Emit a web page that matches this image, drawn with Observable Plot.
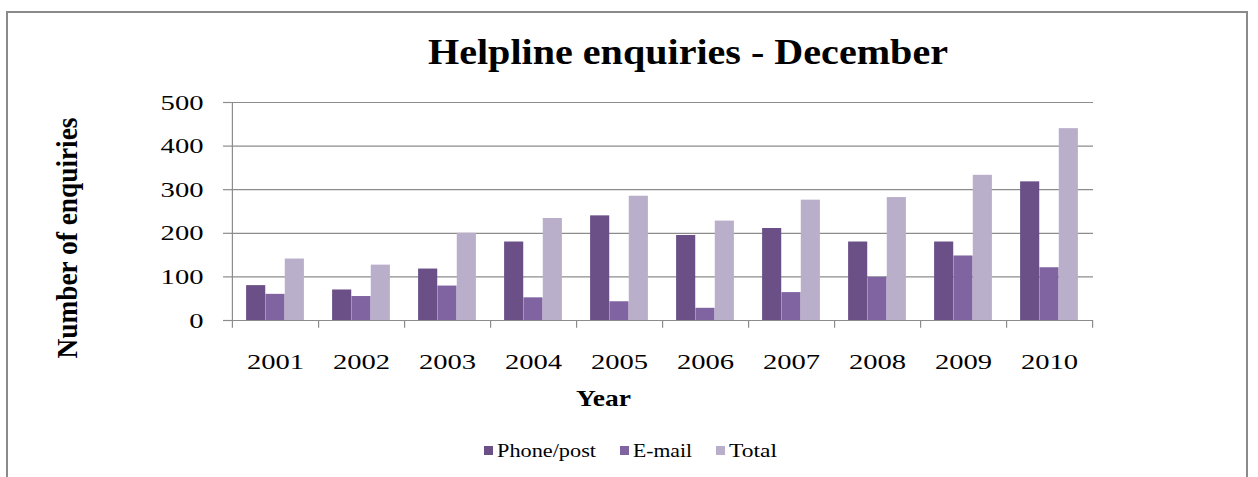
<!DOCTYPE html>
<html>
<head>
<meta charset="utf-8">
<script src="https://cdn.jsdelivr.net/npm/d3@7"></script>
<script src="https://cdn.jsdelivr.net/npm/@observablehq/plot@0.6"></script>
<style>
  body { margin: 0; background: #fff; }
  #wrap { position: relative; width: 1258px; height: 477px; overflow: hidden; background: #fff;
          font-family: "Liberation Serif", "Times New Roman", serif; color: #000; }
  #frame { position: absolute; left: 6px; top: 11px; width: 1242px; height: 480px;
           border: 2px solid #8a8a8a; box-sizing: border-box; }
  #chart { position: absolute; left: 0; top: 0; }
  .lbl { position: absolute; white-space: nowrap; line-height: 1; transform-origin: 0 0; }
  .sw { position: absolute; width: 9px; height: 9px; }
</style>
</head>
<body>
<div id="wrap">
  <div id="frame"></div>
  <div id="chart"></div>
</div>
<script>
// ---- data ----
const years = ["2001","2002","2003","2004","2005","2006","2007","2008","2009","2010"];
const phonePost = [80, 70, 118, 180, 240, 195, 211, 180, 180, 318];
const email     = [60, 55, 79, 52, 43, 28, 64, 99, 148, 121];
const total     = [141, 127, 200, 234, 285, 228, 276, 282, 333, 440];
const seriesNames = ["Phone/post", "E-mail", "Total"];
const seriesColors = ["#6a5087", "#8064a2", "#b9afcb"];
const yTicks = [0, 100, 200, 300, 400, 500];
const titleText = "Helpline enquiries - December";
const xTitle = "Year";
const yTitle = "Number of enquiries";

// ---- layout ----
const W = 1258, H = 477;
const mL = 231, mR = 165, mT = 102, mB = 157;
const step = (W - mL - mR) / years.length;
const groupW = 58, barW = groupW / 3, gap = (step - groupW) / 2;
const gridColor = "#8c8c8c";

const rows = years.map((y, i) => ({year: y, "Phone/post": phonePost[i], "E-mail": email[i], "Total": total[i]}));

const bars = seriesNames.map((name, i) =>
  Plot.barY(rows, {
    x: "year", y: name, fill: seriesColors[i],
    insetLeft: gap + i * barW, insetRight: step - gap - (i + 1) * barW
  })
);

const svg = Plot.plot({
  width: W, height: H,
  marginLeft: mL, marginRight: mR, marginTop: mT, marginBottom: mB,
  style: {fontFamily: "'Liberation Serif', 'Times New Roman', serif", fontSize: "22px", background: "transparent", color: "#000"},
  x: {type: "band", domain: years, padding: 0},
  y: {domain: [0, 500]},
  marks: [
    Plot.gridY(yTicks, {stroke: gridColor, strokeOpacity: 1, strokeWidth: 1.2}),
    Plot.ruleX([years[0]], {x: d => d, dx: -step / 2, y1: -18, y2: 500, stroke: gridColor, strokeWidth: 1.2}),
    Plot.ruleX(years, {x: d => d, dx: step / 2, y1: -18, y2: 0, stroke: gridColor, strokeWidth: 1.2}),
    ...bars,
    Plot.axisY(yTicks, {tickSize: 8, tickPadding: 20, fontSize: 22, label: null, stroke: gridColor, fill: "#000", strokeWidth: 1.2}),
    Plot.axisX({tickSize: 0, tickPadding: 33, fontSize: 22, label: null, fill: "#000"})
  ]
});

const wrap = document.getElementById("wrap");
document.getElementById("chart").appendChild(svg);

// stretch tick label glyphs horizontally like the source rendering
svg.querySelectorAll('g[aria-label$="tick label"] text').forEach(t => {
  const w = t.getComputedTextLength();
  t.setAttribute("textLength", (w * 1.3).toFixed(2));
  t.setAttribute("lengthAdjust", "spacingAndGlyphs");
});

// ---- overlay text ----
function addLabel(text, {left, baseline, size, bold, width}) {
  const d = document.createElement("div");
  d.className = "lbl";
  d.textContent = text;
  d.style.fontSize = size + "px";
  d.style.fontWeight = bold ? "bold" : "normal";
  d.style.left = left + "px";
  d.style.top = (baseline - 0.8375 * size) + "px";
  wrap.appendChild(d);
  const w = d.getBoundingClientRect().width;
  d.style.transform = `scaleX(${width / w})`;
  return d;
}

addLabel(titleText, {left: 428, baseline: 64, size: 35, bold: true, width: 520});
addLabel(xTitle, {left: 576, baseline: 406, size: 23, bold: true, width: 55});

// rotated y title
{
  const d = document.createElement("div");
  d.className = "lbl";
  d.textContent = yTitle;
  d.style.fontSize = "27px";
  d.style.fontWeight = "bold";
  d.style.left = "67.5px";
  d.style.top = "237.5px";
  d.style.transformOrigin = "50% 50%";
  wrap.appendChild(d);
  const w = d.getBoundingClientRect().width;
  d.style.transform = `translate(-50%, -50%) rotate(-90deg) scale(${241 / w}, 1.08)`;
}

// legend
const legendSwatchX = [484, 620, 716];
const legendTextX = [497, 633, 729];
const legendTextW = [99, 59, 48];
seriesNames.forEach((name, i) => {
  const s = document.createElement("div");
  s.className = "sw";
  s.style.left = legendSwatchX[i] + "px";
  s.style.top = "446px";
  s.style.background = seriesColors[i];
  wrap.appendChild(s);
  addLabel(name, {left: legendTextX[i], baseline: 457, size: 18, bold: false, width: legendTextW[i]});
});
</script>
</body>
</html>
